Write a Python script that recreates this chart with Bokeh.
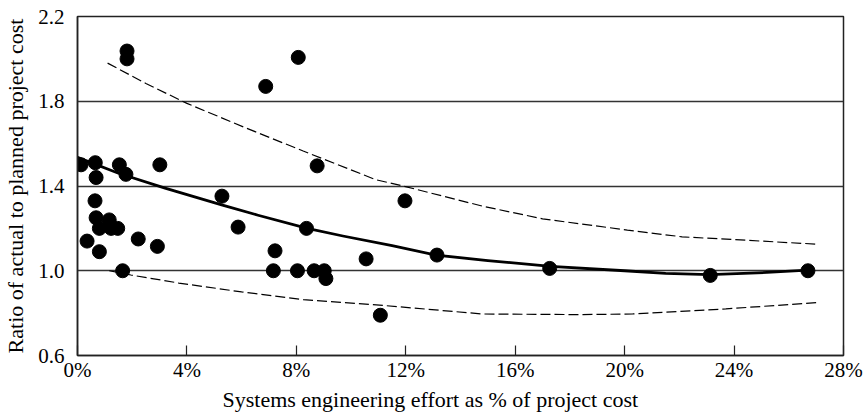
from bokeh.plotting import figure
from bokeh.models import Range1d, FixedTicker, PrintfTickFormatter, Title
from bokeh.embed import file_html
from bokeh.resources import INLINE

# ---- data ----
effort_pct = [0.13, 0.35, 0.65, 0.68, 0.64, 0.68, 0.80, 0.80, 1.16, 1.23,
              1.47, 1.53, 1.77, 1.65, 1.81, 1.81, 2.22, 2.92, 3.01, 5.28,
              5.87, 6.88, 7.22, 7.16, 8.07, 8.04, 8.37, 8.76, 8.65, 9.02,
              9.08, 10.55, 11.07, 11.97, 13.14, 17.26, 23.13, 26.70]
cost_ratio = [1.50, 1.14, 1.51, 1.44, 1.33, 1.25, 1.20, 1.09, 1.24, 1.20,
              1.20, 1.50, 1.455, 1.00, 2.037, 2.00, 1.15, 1.115, 1.50, 1.352,
              1.206, 1.87, 1.094, 1.00, 2.007, 1.00, 1.20, 1.495, 1.00, 1.00,
              0.963, 1.056, 0.79, 1.33, 1.074, 1.011, 0.978, 1.00]

fit_x = [0.0, 1.5, 3.2, 5.3, 6.6, 8.4, 9.7, 11.5, 13.1, 15.0, 17.3, 20.0, 21.5, 23.1, 25.2, 26.7]
fit_y = [1.535, 1.46, 1.39, 1.31, 1.262, 1.20, 1.164, 1.119, 1.074, 1.048, 1.021, 1.0, 0.988, 0.982, 0.992, 1.003]

upper_x = [1.1, 2.5, 4.0, 6.1, 8.25, 10.9, 11.9, 14.8, 17.0, 20.1, 22.1, 24.0, 27.1]
upper_y = [1.98, 1.884, 1.79, 1.677, 1.565, 1.43, 1.40, 1.305, 1.245, 1.192, 1.16, 1.147, 1.125]

lower_x = [1.16, 1.95, 3.7, 6.0, 8.25, 11.2, 14.8, 18.4, 20.3, 23.7, 27.1]
lower_y = [1.0, 0.98, 0.942, 0.90, 0.864, 0.836, 0.796, 0.793, 0.796, 0.82, 0.85]

x_ticks = [0, 4, 8, 12, 16, 20, 24, 28]
y_ticks = [0.6, 1.0, 1.4, 1.8, 2.2]
grid_levels = [1.0, 1.4, 1.8]

x_title = "Systems engineering effort as % of project cost"
y_title = "Ratio of actual to planned project cost"

FONT = "Liberation Serif"

p = figure(width=865, height=412,
           x_range=Range1d(0, 28), y_range=Range1d(0.6, 2.2),
           output_backend="svg", toolbar_location=None,
           min_border_left=73, min_border_right=22,
           min_border_top=16, min_border_bottom=55)

p.background_fill_color = "white"
p.border_fill_color = "white"
p.outline_line_color = "#222222"
p.outline_line_width = 1.5

# grid
p.xgrid.visible = False
p.ygrid.ticker = FixedTicker(ticks=grid_levels)
p.ygrid.grid_line_color = "#333333"
p.ygrid.grid_line_width = 1.5

# x axis
xa = p.xaxis[0]
xa.ticker = FixedTicker(ticks=x_ticks)
xa.formatter = PrintfTickFormatter(format="%d%%")
xa.major_tick_in = 10
xa.major_tick_out = 0
xa.minor_tick_line_color = None
xa.major_tick_line_color = "#222222"
xa.major_tick_line_width = 1.2
xa.axis_line_color = "#222222"
xa.axis_line_width = 1.5
xa.major_label_text_font = FONT
xa.major_label_text_font_size = "21px"
xa.major_label_text_color = "black"
xa.major_label_standoff = 2

# y axis
ya = p.yaxis[0]
ya.ticker = FixedTicker(ticks=y_ticks)
ya.formatter = PrintfTickFormatter(format="%.1f")
ya.major_tick_line_color = None
ya.minor_tick_line_color = None
ya.axis_line_color = "#222222"
ya.axis_line_width = 1.5
ya.major_label_text_font = FONT
ya.major_label_text_font_size = "21px"
ya.major_label_text_color = "black"
ya.major_label_standoff = 7
ya.axis_label = y_title
ya.axis_label_text_font = FONT
ya.axis_label_text_font_size = "22px"
ya.axis_label_text_font_style = "normal"
ya.axis_label_text_color = "black"
ya.axis_label_standoff = 7

# x axis title, shifted like the reference
p.add_layout(Title(text=x_title, align="left", offset=145, standoff=1,
                   text_font=FONT, text_font_size="22px",
                   text_font_style="normal", text_color="black"), "below")

# curves
p.line(upper_x, upper_y, line_color="black", line_width=1.2, line_dash="10 4")
p.line(lower_x, lower_y, line_color="black", line_width=1.2, line_dash="10 4")
p.line(fit_x, fit_y, line_color="black", line_width=2.8, line_join="round")

# points
p.scatter(effort_pct, cost_ratio, size=14, fill_color="black", line_color="black")

open("out.html", "w").write(file_html(p, INLINE))
